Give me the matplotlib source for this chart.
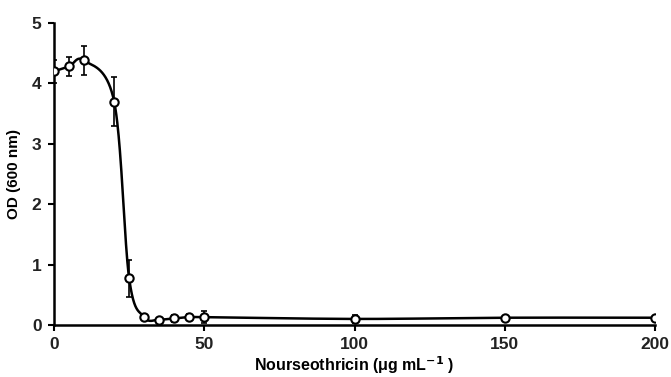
import matplotlib.pyplot as plt
import numpy as np

plt.rcParams['font.family'] = ['Liberation Sans', 'DejaVu Sans']

conc = [0, 5, 10, 20, 25, 30, 35, 40, 45, 50, 100, 150, 200]
od = [4.2, 4.28, 4.38, 3.7, 0.77, 0.13, 0.09, 0.11, 0.13, 0.13, 0.1, 0.12, 0.12]
err = [0.19, 0.15, 0.24, 0.4, 0.31, 0.03, 0.03, 0.06, 0.05, 0.1, 0.07, 0.03, 0.03]


def smooth_line(x, y, n=40):
    # catmull-rom style smoothing like the spreadsheet "smoothed line"
    x = np.asarray(x, float)
    y = np.asarray(y, float)
    px = np.concatenate([[x[0]], x, [x[-1]]])
    py = np.concatenate([[y[0]], y, [y[-1]]])
    xs, ys = [], []
    t = np.linspace(0, 1, n)
    for i in range(1, len(px) - 2):
        p0, p1, p2, p3 = (np.array([px[j], py[j]]) for j in range(i - 1, i + 3))
        c1 = p1 + (p2 - p0) / 6.0
        c2 = p2 - (p3 - p1) / 6.0
        for tt in t:
            b = ((1 - tt) ** 3) * p1 + 3 * ((1 - tt) ** 2) * tt * c1 + 3 * (1 - tt) * tt ** 2 * c2 + tt ** 3 * p2
            xs.append(b[0])
            ys.append(b[1])
    return xs, ys


fig = plt.figure(figsize=(6.71, 3.77), dpi=100)
ax = fig.add_axes([0.0805, 0.138, 0.896, 0.801])

sx, sy = smooth_line(conc, od)
ax.plot(sx, sy, color='black', lw=1.8, zorder=2)
ax.errorbar(conc, od, yerr=err, fmt='none', ecolor='black', elinewidth=1.2,
            capsize=2.5, capthick=1.2, zorder=3)
ax.plot(conc, od, 'o', mfc='white', mec='black', mew=1.5, ms=6, zorder=4)

ax.set_xlim(0, 200)
ax.set_ylim(0, 5)
ax.set_xticks([0, 50, 100, 150, 200])
ax.set_yticks([0, 1, 2, 3, 4, 5])
ax.spines['top'].set_visible(False)
ax.spines['right'].set_visible(False)
ax.spines['left'].set_linewidth(1.8)
ax.spines['bottom'].set_linewidth(1.8)
ax.tick_params(direction='out', length=4, width=1.5, labelsize=12.5, pad=5)
for lab in ax.get_xticklabels() + ax.get_yticklabels():
    lab.set_fontweight('bold')
    lab.set_color('#222222')

ax.set_xlabel('Nourseothricin (\u03bcg mL$^{\\mathbf{-1}}$ )', fontsize=11.5,
              fontweight='bold', labelpad=1)
ax.set_ylabel('OD (600 nm)', fontsize=11, fontweight='bold', labelpad=8)

fig.savefig('out.png', dpi=100)
